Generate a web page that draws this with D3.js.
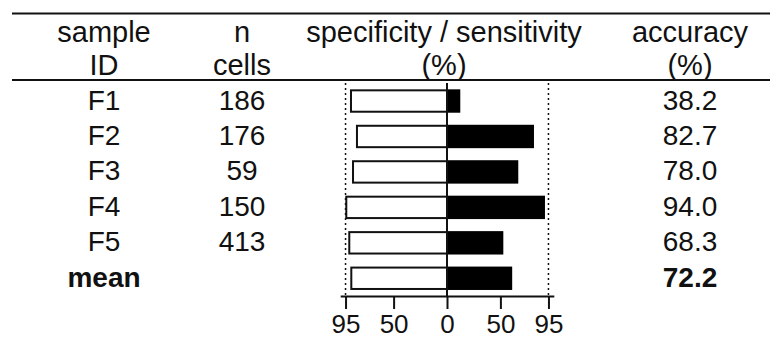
<!DOCTYPE html>
<html>
<head>
<meta charset="utf-8">
<script src="https://cdn.jsdelivr.net/npm/d3@7"></script>
<style>
  body { margin: 0; background: #fff; }
  text { font-family: "Liberation Sans", Arial, sans-serif; fill: #111; }
</style>
</head>
<body>
<div id="chart"></div>
<script>
// table rows
const samples = ["F1", "F2", "F3", "F4", "F5", "mean"]
const nCells = [186, 176, 59, 150, 413, null]
const specificity = [89.9, 84.3, 88.0, 94.3, 91.5, 89.6]
const sensitivity = [11.5, 80.5, 65.8, 90.8, 51.8, 60.1]
const accuracy = [38.2, 82.7, 78.0, 94.0, 68.3, 72.2]
const axisTicks = [-95, -50, 0, 50, 95]

const width = 770
const height = 338
const headFont = 29
const cellFont = 28
const tickFont = 26

const svg = d3.select("#chart").append("svg")
    .attr("width", width)
    .attr("height", height)

// scales for the butterfly bars
const x = d3.scaleLinear().domain([-100, 100]).range([340.2, 553.8])
const y = d3.scaleBand().domain(samples).range([83.3, 296]).paddingInner(0.34).paddingOuter(0.17)

// column centres
const colSample = 104
const colN = 242
const colAcc = 690

// horizontal rules
svg.append("line").attr("x1", 12).attr("x2", width).attr("y1", 13.5).attr("y2", 13.5)
    .attr("stroke", "#111").attr("stroke-width", 2)
svg.append("line").attr("x1", 12).attr("x2", width).attr("y1", 80).attr("y2", 80)
    .attr("stroke", "#111").attr("stroke-width", 2)

// header
const headers = [
    [colSample, "sample", "ID"],
    [colN, "n", "cells"],
    [444, "specificity / sensitivity", "(%)"],
    [colAcc, "accuracy", "(%)"]
]
headers.forEach(h => {
    svg.append("text").attr("x", h[0]).attr("y", 42).attr("text-anchor", "middle")
        .attr("font-size", headFont).text(h[1])
    svg.append("text").attr("x", h[0]).attr("y", 74.5).attr("text-anchor", "middle")
        .attr("font-size", headFont).text(h[2])
})

// dotted guides at +/-95
const plotTop = 83
const plotBottom = 296
;[-95, 95].forEach(v => {
    svg.append("line").attr("x1", x(v)).attr("x2", x(v)).attr("y1", plotTop).attr("y2", plotBottom)
        .attr("stroke", "#111").attr("stroke-width", 1.5).attr("stroke-dasharray", "2,3")
})

// bars: specificity to the left (white), sensitivity to the right (black)
samples.forEach((s, i) => {
    svg.append("rect")
        .attr("x", x(-specificity[i])).attr("y", y(s) + 1)
        .attr("width", x(0) - x(-specificity[i])).attr("height", y.bandwidth() - 2)
        .attr("fill", "#fff").attr("stroke", "#111").attr("stroke-width", 2)
    svg.append("rect")
        .attr("x", x(0)).attr("y", y(s) + 1)
        .attr("width", x(sensitivity[i]) - x(0)).attr("height", y.bandwidth() - 2)
        .attr("fill", "#000").attr("stroke", "#000").attr("stroke-width", 2)
})

// centre line
svg.append("line").attr("x1", x(0)).attr("x2", x(0)).attr("y1", plotTop).attr("y2", plotBottom)
    .attr("stroke", "#111").attr("stroke-width", 2)

// bottom axis
const axis = svg.append("g").attr("transform", `translate(0,${plotBottom})`)
    .call(d3.axisBottom(x).tickValues(axisTicks).tickFormat(d => Math.abs(d)).tickSize(13).tickSizeOuter(0))
axis.select(".domain").attr("stroke", "#111").attr("stroke-width", 2)
axis.selectAll(".tick line").attr("stroke", "#111").attr("stroke-width", 2)
axis.selectAll(".tick text").attr("font-size", tickFont).attr("font-family", "Liberation Sans, Arial, sans-serif")
    .attr("fill", "#111").attr("y", 37).attr("dy", null)

// table cells
samples.forEach((s, i) => {
    const cy = y(s) + y.bandwidth() / 2
    const bold = s === "mean" ? "bold" : "normal"
    svg.append("text").attr("x", colSample).attr("y", cy + 8.5)
        .attr("text-anchor", "middle").attr("font-size", cellFont).attr("font-weight", bold).text(s)
    if (nCells[i] !== null)
        svg.append("text").attr("x", colN).attr("y", cy + 8.5)
            .attr("text-anchor", "middle").attr("font-size", cellFont).text(nCells[i])
    svg.append("text").attr("x", colAcc).attr("y", cy + 8.5)
        .attr("text-anchor", "middle").attr("font-size", cellFont).attr("font-weight", bold)
        .text(accuracy[i].toFixed(1))
})
</script>
</body>
</html>
